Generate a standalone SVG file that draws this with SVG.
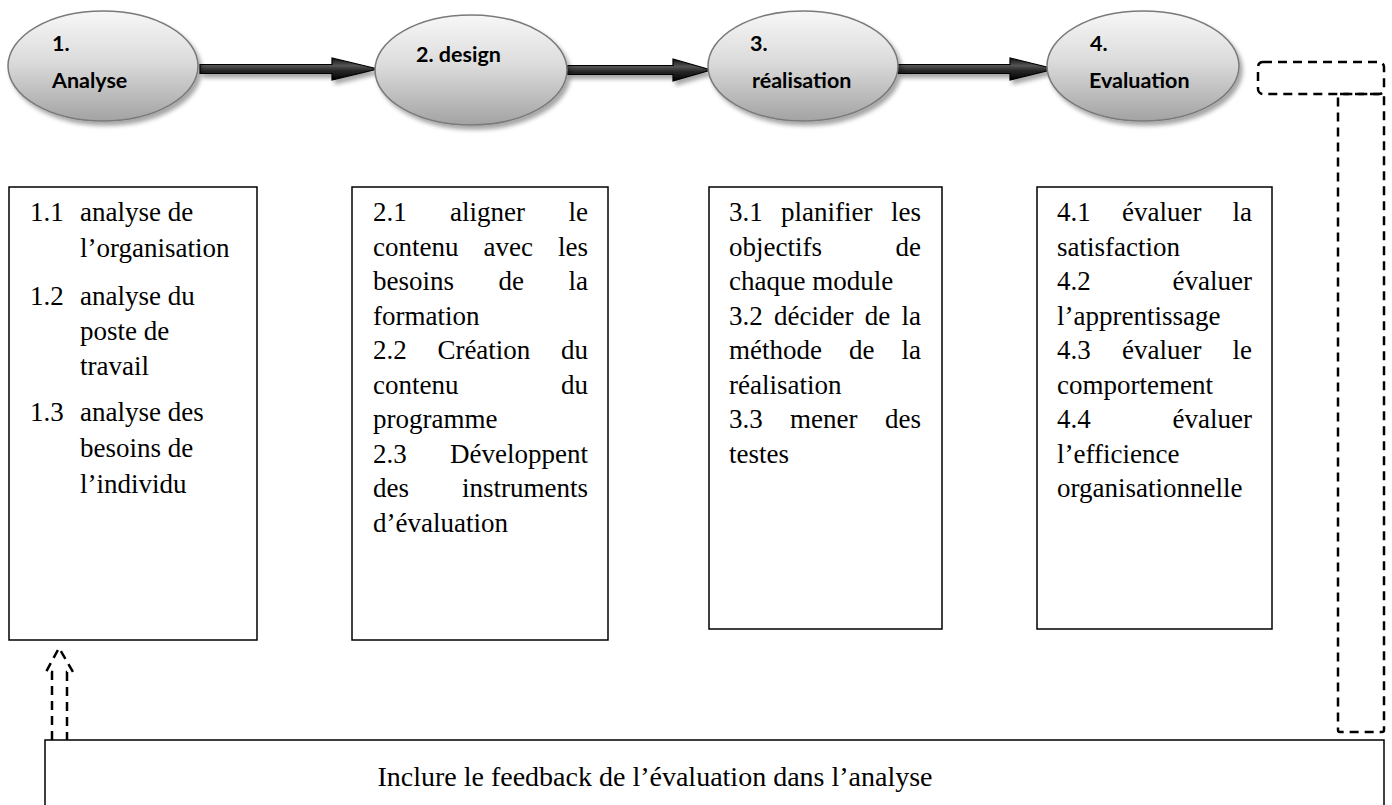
<svg xmlns="http://www.w3.org/2000/svg" width="1392" height="805" viewBox="0 0 1392 805">
<defs>
<linearGradient id="eg" x1="0" y1="0" x2="0" y2="1">
<stop offset="0" stop-color="#f7f7f7"/>
<stop offset="0.45" stop-color="#dcdcdc"/>
<stop offset="1" stop-color="#a3a3a3"/>
</linearGradient>
<linearGradient id="ag" x1="0" y1="0" x2="0" y2="1">
<stop offset="0" stop-color="#111"/>
<stop offset="0.35" stop-color="#555"/>
<stop offset="0.55" stop-color="#2a2a2a"/>
<stop offset="1" stop-color="#000"/>
</linearGradient>
<filter id="sh" x="-20%" y="-20%" width="140%" height="150%">
<feDropShadow dx="3" dy="4" stdDeviation="2" flood-color="#000" flood-opacity="0.35"/>
</filter>
</defs>
<style>
.el{fill:url(#eg);stroke:#7a7a7a;stroke-width:1.5;filter:url(#sh)}
.lbl{font-family:Lato,"Liberation Sans",sans-serif;font-weight:bold;font-size:21.5px;fill:#000}
.box{fill:#fff;stroke:#000;stroke-width:1.5}
.t{font-family:"Liberation Serif","Times New Roman",serif;font-size:27px;fill:#000}
.e{text-anchor:end}
.dash{fill:none;stroke:#000;stroke-width:2.5;stroke-dasharray:9 6}
.arr{fill:url(#ag);stroke:#000;stroke-width:1.2;filter:url(#sh)}
</style>

<g id="connectors">
<polygon class="arr" points="200,64.5 332,64.5 332,58 378,69 332,80 332,73.5 200,73.5"/>
<polygon class="arr" points="567,65.5 673,65.5 673,59 711,70 673,81 673,74.5 567,74.5"/>
<polygon class="arr" points="898,64.5 1010,64.5 1010,58 1055,69 1010,80 1010,73.5 898,73.5"/>
<path class="dash" d="M52,740 V672 H46 L59,648 L73,672 H67 V740"/>
<rect class="dash" x="1258" y="62" width="126" height="32" rx="5"/>
<rect class="dash" x="1338" y="94" width="46" height="638" rx="2"/>
</g>

<g id="n1">
<ellipse class="el" cx="103" cy="66" rx="95" ry="55"/>
<text class="lbl" x="52" y="51">1.</text>
<text class="lbl" x="52" y="88">Analyse</text>
</g>
<g id="n2">
<ellipse class="el" cx="471" cy="70" rx="96" ry="55"/>
<text class="lbl" x="416" y="62">2. design</text>
</g>
<g id="n3">
<ellipse class="el" cx="803" cy="66" rx="95" ry="55"/>
<text class="lbl" x="750" y="51">3.</text>
<text class="lbl" x="752" y="88">réalisation</text>
</g>
<g id="n4">
<ellipse class="el" cx="1143" cy="66" rx="96" ry="55"/>
<text class="lbl" x="1090" y="51">4.</text>
<text class="lbl" x="1089" y="88">Evaluation</text>
</g>

<g id="b1">
<rect class="box" x="9" y="187" width="248" height="453"/>
<text class="t" x="30" y="221">1.1</text><text class="t" x="80" y="221">analyse de</text>
<text class="t" x="80" y="257">l’organisation</text>
<text class="t" x="30" y="305">1.2</text><text class="t" x="80" y="305">analyse du</text>
<text class="t" x="80" y="340">poste de</text>
<text class="t" x="80" y="375">travail</text>
<text class="t" x="30" y="421">1.3</text><text class="t" x="80" y="421">analyse des</text>
<text class="t" x="80" y="457">besoins de</text>
<text class="t" x="80" y="493">l’individu</text>
</g>

<g id="b2">
<rect class="box" x="352" y="187" width="256" height="453"/>
<text class="t" x="373" y="221">2.1</text><text class="t" x="450" y="221">aligner</text><text class="t e" x="588" y="221">le</text>
<text class="t" x="373" y="255.5">contenu</text><text class="t" x="483.5" y="255.5">avec</text><text class="t e" x="588" y="255.5">les</text>
<text class="t" x="373" y="290">besoins</text><text class="t" x="498.5" y="290">de</text><text class="t e" x="588" y="290">la</text>
<text class="t" x="373" y="324.5">formation</text>
<text class="t" x="373" y="359">2.2</text><text class="t" x="437.4" y="359">Création</text><text class="t e" x="588" y="359">du</text>
<text class="t" x="373" y="393.5">contenu</text><text class="t e" x="588" y="393.5">du</text>
<text class="t" x="373" y="428">programme</text>
<text class="t" x="373" y="462.5">2.3</text><text class="t e" x="588" y="462.5">Développent</text>
<text class="t" x="373" y="497">des</text><text class="t e" x="588" y="497">instruments</text>
<text class="t" x="373" y="531.5">d’évaluation</text>
</g>

<g id="b3">
<rect class="box" x="709" y="187" width="233" height="442"/>
<text class="t" x="729" y="221">3.1</text><text class="t" x="781" y="221">planifier</text><text class="t e" x="921" y="221">les</text>
<text class="t" x="729" y="255.5">objectifs</text><text class="t e" x="921" y="255.5">de</text>
<text class="t" x="729" y="290">chaque module</text>
<text class="t" x="729" y="324.5">3.2</text><text class="t" x="774" y="324.5">décider</text><text class="t" x="864.7" y="324.5">de</text><text class="t e" x="921" y="324.5">la</text>
<text class="t" x="729" y="359">méthode</text><text class="t" x="849" y="359">de</text><text class="t e" x="921" y="359">la</text>
<text class="t" x="729" y="393.5">réalisation</text>
<text class="t" x="729" y="428">3.3</text><text class="t" x="790" y="428">mener</text><text class="t e" x="921" y="428">des</text>
<text class="t" x="729" y="462.5">testes</text>
</g>

<g id="b4">
<rect class="box" x="1037" y="187" width="235" height="442"/>
<text class="t" x="1057" y="221">4.1</text><text class="t" x="1122" y="221">évaluer</text><text class="t e" x="1252" y="221">la</text>
<text class="t" x="1057" y="255.5">satisfaction</text>
<text class="t" x="1057" y="290">4.2</text><text class="t e" x="1252" y="290">évaluer</text>
<text class="t" x="1057" y="324.5">l’apprentissage</text>
<text class="t" x="1057" y="359">4.3</text><text class="t" x="1122" y="359">évaluer</text><text class="t e" x="1252" y="359">le</text>
<text class="t" x="1057" y="393.5">comportement</text>
<text class="t" x="1057" y="428">4.4</text><text class="t e" x="1252" y="428">évaluer</text>
<text class="t" x="1057" y="462.5">l’efficience</text>
<text class="t" x="1057" y="497">organisationnelle</text>
</g>

<g id="b5">
<rect class="box" x="45" y="740" width="1339" height="80"/>
<text class="t" x="655" y="786" text-anchor="middle" style="font-size:28px">Inclure le feedback de l’évaluation dans l’analyse</text>
</g>
</svg>
